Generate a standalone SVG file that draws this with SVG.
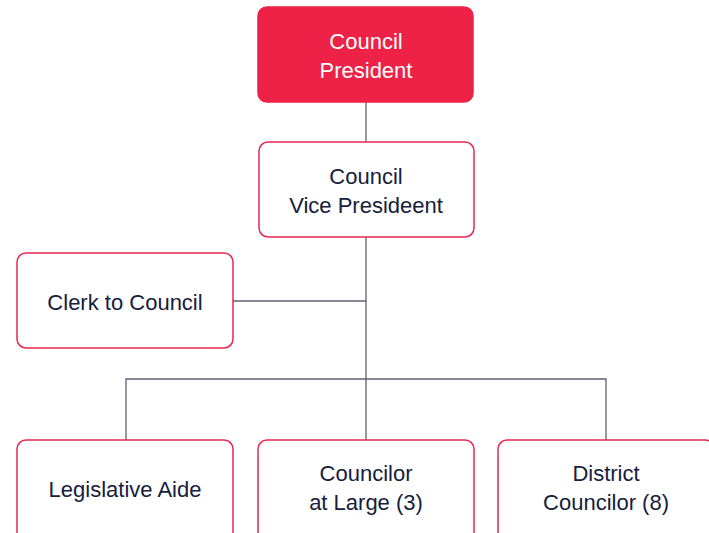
<svg xmlns="http://www.w3.org/2000/svg" width="709" height="533" viewBox="0 0 709 533">
  <style>
    .box { fill: #ffffff; stroke: #e8284f; stroke-width: 1.5; }
    .head { fill: #ee2146; stroke: #ee2146; stroke-width: 1.5; }
    .lbl { font-family: "Liberation Sans", Arial, sans-serif; font-size: 22px; fill: #16203c; text-anchor: middle; }
    .lbl-w { fill: #ffffff; }
    .conn { fill: none; stroke: #5d6273; stroke-width: 1.3; }
  </style>
  <rect width="709" height="533" fill="#ffffff"/>

  <g id="connectors">
    <line class="conn" x1="366" y1="102" x2="366" y2="142"/>
    <line class="conn" x1="366" y1="237" x2="366" y2="440"/>
    <line class="conn" x1="233" y1="301" x2="366" y2="301"/>
    <polyline class="conn" points="126,440 126,379 606,379 606,440"/>
  </g>

  <g id="president">
    <rect class="head" x="258" y="7" width="215" height="95" rx="9"/>
    <text class="lbl lbl-w" x="366" y="49">Council</text>
    <text class="lbl lbl-w" x="366" y="78">President</text>
  </g>

  <g id="vice-president">
    <rect class="box" x="259" y="142" width="215" height="95" rx="9"/>
    <text class="lbl" x="366" y="184">Council</text>
    <text class="lbl" x="366" y="213">Vice Presideent</text>
  </g>

  <g id="clerk">
    <rect class="box" x="17" y="253" width="216" height="95" rx="9"/>
    <text class="lbl" x="125" y="310">Clerk to Council</text>
  </g>

  <g id="legislative-aide">
    <rect class="box" x="17" y="440" width="216" height="110" rx="9"/>
    <text class="lbl" x="125" y="497">Legislative Aide</text>
  </g>

  <g id="councilor-at-large">
    <rect class="box" x="258" y="440" width="216" height="110" rx="9"/>
    <text class="lbl" x="366" y="481">Councilor</text>
    <text class="lbl" x="366" y="510">at Large (3)</text>
  </g>

  <g id="district-councilor">
    <rect class="box" x="498" y="440" width="216" height="110" rx="9"/>
    <text class="lbl" x="606" y="481">District</text>
    <text class="lbl" x="606" y="510">Councilor (8)</text>
  </g>
</svg>
